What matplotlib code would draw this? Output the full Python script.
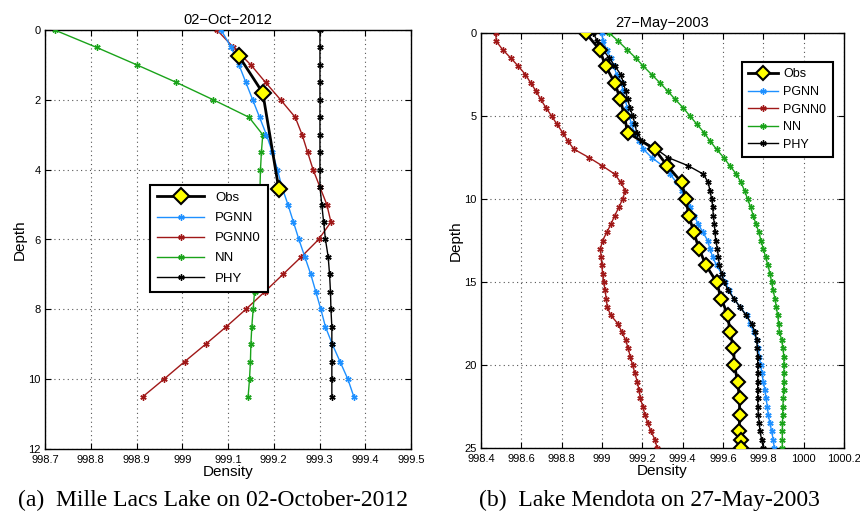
import numpy as np
import matplotlib
matplotlib.use("Agg")
from matplotlib import pyplot as plt

plt.rcParams['font.family'] = ['Liberation Sans Narrow', 'Liberation Sans', 'DejaVu Sans']

# ---- (a) Mille Lacs Lake, 02-Oct-2012 ----
a_depth = np.arange(0, 10.75, 0.5)
a_obs_depth = [0.75, 1.8, 4.55]
a_obs = [999.124, 999.176, 999.211]
a_pgnn = [999.085, 999.107, 999.124, 999.139, 999.154, 999.169, 999.184, 999.197,
          999.208, 999.218, 999.231, 999.243, 999.255, 999.268, 999.281, 999.292,
          999.303, 999.313, 999.328, 999.345, 999.362, 999.375]
a_pgnn0 = [999.076, 999.112, 999.150, 999.182, 999.215, 999.247, 999.262, 999.274,
           999.286, 999.301, 999.316, 999.325, 999.298, 999.260, 999.220, 999.180,
           999.139, 999.096, 999.051, 999.005, 998.960, 998.914]
a_nn = [998.721, 998.813, 998.901, 998.987, 999.068, 999.146, 999.176, 999.173,
        999.171, 999.170, 999.168, 999.166, 999.163, 999.162, 999.160, 999.158,
        999.155, 999.152, 999.150, 999.149, 999.147, 999.144]
a_phy = [999.301, 999.301, 999.301, 999.301, 999.301, 999.301, 999.301, 999.301,
         999.301, 999.301, 999.305, 999.309, 999.313, 999.319, 999.322, 999.324,
         999.325, 999.327, 999.327, 999.327, 999.327, 999.327]
a_xticks = [998.7, 998.8, 998.9, 999, 999.1, 999.2, 999.3, 999.4, 999.5]
a_xlabels = ['998.7', '998.8', '998.9', '999', '999.1', '999.2', '999.3', '999.4', '999.5']
a_yticks = [0, 2, 4, 6, 8, 10, 12]

# ---- (b) Lake Mendota, 27-May-2003 ----
b_depth = np.arange(0, 25.25, 0.5)
b_obs_depth = [0, 1, 2, 3, 4, 5, 6, 7, 8, 9, 10, 11, 12, 13, 14, 15, 16, 17, 18, 19,
               20, 21, 22, 23, 24, 24.5, 25]
b_obs = [998.919, 998.988, 999.018, 999.063, 999.091, 999.111, 999.127, 999.261,
         999.324, 999.395, 999.415, 999.431, 999.455, 999.481, 999.516, 999.568,
         999.591, 999.624, 999.634, 999.652, 999.657, 999.672, 999.682, 999.682,
         999.681, 999.689, 999.691]
b_pgnn = [998.998, 999.006, 999.023, 999.043, 999.058, 999.073, 999.098, 999.103,
          999.114, 999.125, 999.135, 999.147, 999.160, 999.185, 999.205, 999.246,
          999.301, 999.337, 999.370, 999.395, 999.420, 999.436, 999.456, 999.477,
          999.500, 999.524, 999.535, 999.549, 999.568, 999.593, 999.610, 999.631,
          999.654, 999.684, 999.717, 999.734, 999.752, 999.767, 999.775, 999.780,
          999.787, 999.792, 999.800, 999.808, 999.813, 999.820, 999.824, 999.833,
          999.841, 999.849, 999.854]
b_pgnn0 = [998.473, 998.476, 998.507, 998.547, 998.585, 998.620, 998.646, 998.673,
           998.696, 998.722, 998.750, 998.777, 998.805, 998.830, 998.861, 998.935,
           999.001, 999.063, 999.093, 999.116, 999.102, 999.084, 999.063, 999.045,
           999.024, 999.003, 998.992, 998.996, 998.999, 999.003, 999.008, 999.015,
           999.021, 999.026, 999.043, 999.078, 999.098, 999.117, 999.130, 999.140,
           999.152, 999.163, 999.175, 999.183, 999.190, 999.202, 999.213, 999.227,
           999.243, 999.263, 999.273]
b_nn = [999.036, 999.081, 999.124, 999.167, 999.205, 999.246, 999.287, 999.326,
        999.363, 999.402, 999.436, 999.471, 999.506, 999.535, 999.568, 999.603,
        999.634, 999.666, 999.689, 999.707, 999.722, 999.737, 999.750, 999.763,
        999.778, 999.788, 999.800, 999.811, 999.823, 999.833, 999.841, 999.848,
        999.858, 999.864, 999.871, 999.876, 999.880, 999.891, 999.897, 999.902,
        999.902, 999.902, 999.902, 999.901, 999.899, 999.897, 999.896, 999.895,
        999.894, 999.894, 999.894]
b_phy = [998.957, 998.977, 999.003, 999.036, 999.064, 999.093, 999.106, 999.117,
         999.127, 999.139, 999.152, 999.164, 999.172, 999.200, 999.270, 999.327,
         999.428, 999.502, 999.527, 999.535, 999.544, 999.549, 999.552, 999.557,
         999.560, 999.564, 999.572, 999.577, 999.582, 999.593, 999.605, 999.626,
         999.654, 999.684, 999.714, 999.742, 999.758, 999.767, 999.770, 999.772,
         999.772, 999.773, 999.772, 999.772, 999.772, 999.773, 999.775, 999.780,
         999.783, 999.792, 999.800]
b_xticks = [998.4, 998.6, 998.8, 999, 999.2, 999.4, 999.6, 999.8, 1000, 1000.2]
b_xlabels = ['998.4', '998.6', '998.8', '999', '999.2', '999.4', '999.6', '999.8',
             '1000', '1000.2']
b_yticks = [0, 5, 10, 15, 20, 25]

names = ['Obs', 'PGNN', 'PGNN0', 'NN', 'PHY']
c_pgnn = '#1e90ff'
c_pgnn0 = '#a01818'
c_nn = '#1aa31a'
c_phy = 'black'
ast = (6, 2, 0)  # asterisk like matlab '*'

fig = plt.figure(figsize=(8.6, 5.18), dpi=100)
ax1 = fig.add_axes([45 / 860, 69 / 518, 366 / 860, 419 / 518])
ax2 = fig.add_axes([481 / 860, 70 / 518, 363 / 860, 415 / 518])


def draw(ax, depth, obs_d, obs, pgnn, pgnn0, nn, phy, ms_obs):
    ax.plot(obs, obs_d, '-', color='black', lw=2, marker='D', ms=ms_obs,
            mfc='#ffff00', mec='black', mew=1.5, zorder=6, label=names[0])
    for vals, col, lab, z in [(pgnn, c_pgnn, names[1], 4), (pgnn0, c_pgnn0, names[2], 3),
                              (nn, c_nn, names[3], 3), (phy, c_phy, names[4], 5)]:
        ax.plot(vals, depth, '-', color=col, lw=1, marker=ast, ms=4.5, mew=1,
                zorder=z, label=lab)


draw(ax1, a_depth, a_obs_depth, a_obs, a_pgnn, a_pgnn0, a_nn, a_phy, 8)
draw(ax2, b_depth, b_obs_depth, b_obs, b_pgnn, b_pgnn0, b_nn, b_phy, 7.5)

for ax, xt, xl, yt, xlim, ylim, title in [
        (ax1, a_xticks, a_xlabels, a_yticks, (998.7, 999.5), (12, 0), '02\u2212Oct\u22122012'),
        (ax2, b_xticks, b_xlabels, b_yticks, (998.4, 1000.2), (25, 0), '27\u2212May\u22122003')]:
    ax.set_xlim(*xlim)
    ax.set_ylim(*ylim)
    ax.set_xticks(xt)
    ax.set_xticklabels(xl)
    ax.set_yticks(yt)
    ax.tick_params(direction='in', top=True, right=True, labelsize=8, length=4)
    ax.tick_params(axis='x', pad=4)
    ax.tick_params(axis='y', pad=3)
    ax.grid(True, linestyle=(0, (1, 3)), color='#555555', lw=0.8)
    for s in ax.spines.values():
        s.set_linewidth(1.0)
    ax.set_title(title, fontsize=10.5, pad=4)
    ax.set_xlabel('Density', fontsize=11, labelpad=0)
    ax.set_ylabel('Depth', fontsize=11, labelpad=1)

leg1 = ax1.legend(loc='upper left', bbox_to_anchor=(0.268, 0.647), fontsize=9.5,
                  handlelength=3.6, labelspacing=0.6, borderpad=0.55,
                  fancybox=False, framealpha=1, edgecolor='black')
leg1.get_frame().set_linewidth(1.5)
leg2 = ax2.legend(loc='upper right', bbox_to_anchor=(0.986, 0.945), fontsize=9,
                  handlelength=2.4, labelspacing=0.45, borderpad=0.5, handletextpad=0.4,
                  fancybox=False, framealpha=1, edgecolor='black')
leg2.get_frame().set_linewidth(1.5)

fig.text(213 / 860, 1 - 500 / 518, '(a)  Mille Lacs Lake on 02-October-2012',
         family='Liberation Serif', fontsize=17, ha='center', va='center')
fig.text(649 / 860, 1 - 500 / 518, '(b)  Lake Mendota on 27-May-2003',
         family='Liberation Serif', fontsize=17, ha='center', va='center')

fig.savefig('out.png', dpi=100)
